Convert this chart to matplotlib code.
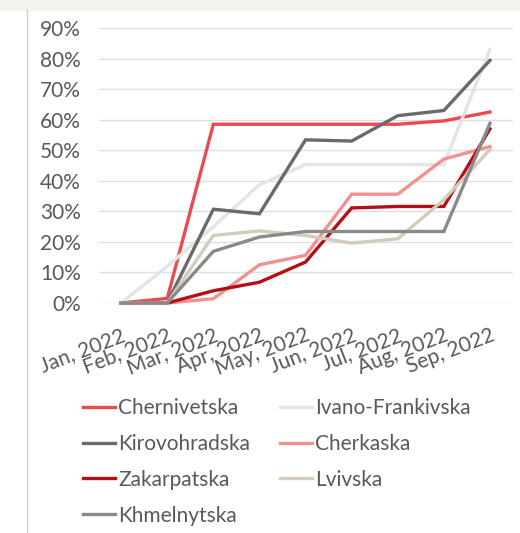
import matplotlib.pyplot as plt
from matplotlib.patches import Rectangle
from matplotlib.lines import Line2D

months = ["Jan, 2022", "Feb, 2022", "Mar, 2022", "Apr, 2022", "May, 2022",
          "Jun, 2022", "Jul, 2022", "Aug, 2022", "Sep, 2022"]

chernivetska = [0, 1.5, 58.5, 58.5, 58.5, 58.5, 58.5, 59.6, 62.5]
ivano_frankivska = [0, 12, 25, 38.7, 45.3, 45.3, 45.3, 45.3, 83]
kirovohradska = [0, 0, 30.7, 29.2, 53.4, 53, 61.3, 63, 79.4]
cherkaska = [0, 0, 1.4, 12.5, 15.6, 35.6, 35.6, 47.1, 51.2]
zakarpatska = [0, 0, 4, 6.8, 13.4, 31.1, 31.6, 31.6, 57]
lvivska = [0, 0, 22.1, 23.6, 22.1, 19.6, 21, 33.8, 50.2]
khmelnytska = [0, 0, 16.9, 21.6, 23.4, 23.4, 23.4, 23.4, 58.8]

series = [
    ("Chernivetska", chernivetska, "#ec4a52"),
    ("Ivano-Frankivska", ivano_frankivska, "#e4e4e4"),
    ("Kirovohradska", kirovohradska, "#6b696a"),
    ("Cherkaska", cherkaska, "#f29191"),
    ("Zakarpatska", zakarpatska, "#b30f15"),
    ("Lvivska", lvivska, "#d3ccbc"),
    ("Khmelnytska", khmelnytska, "#8b898a"),
]

plt.rcParams['font.family'] = ['Lato', 'DejaVu Sans']
text_color = "#595959"

fig = plt.figure(figsize=(5.2, 5.33), dpi=100)
ax = fig.add_axes([99 / 520, 1 - 303 / 533, 414 / 520, 275 / 533])

# top band and left rule of the original screenshot
fig.patches.append(Rectangle((0, 1 - 10 / 533), 1, 10 / 533, transform=fig.transFigure,
                             color="#f3f2ef", zorder=0))
fig.lines.append(Line2D([27 / 520, 27 / 520], [0, 1 - 10 / 533], transform=fig.transFigure,
                        color="#d4d4d4", lw=1))

x = list(range(len(months)))
handles = {}
for name, vals, col in series:
    ln, = ax.plot(x, [v / 100 for v in vals], color=col, lw=2.4, clip_on=False,
                  solid_joinstyle="miter", label=name)
    handles[name] = ln

ax.set_xlim(-0.48, 8.5)
ax.set_ylim(0, 0.9)
ax.set_yticks([i / 10 for i in range(10)])
ax.set_yticklabels([f"{i * 10}%" for i in range(10)])
ax.yaxis.grid(True, color="#e0e0e0", lw=1)
ax.set_axisbelow(True)
for s in ax.spines.values():
    s.set_visible(False)
ax.tick_params(axis="both", length=0, colors=text_color, labelsize=15)
ax.tick_params(axis="y", pad=13)
ax.set_xticks(x)
ax.set_xticklabels(months, rotation=21, ha="right", va="top", rotation_mode="anchor")
ax.tick_params(axis="x", pad=16)

order = ["Chernivetska", "Kirovohradska", "Zakarpatska", "Khmelnytska",
         "Ivano-Frankivska", "Cherkaska", "Lvivska"]
leg = fig.legend([handles[n] for n in order], order, ncol=2, frameon=False,
                 loc="upper left", bbox_to_anchor=(83 / 520, 1 - 398 / 533),
                 borderpad=0, borderaxespad=0,
                 fontsize=15, handlelength=1.55, handletextpad=0.15,
                 columnspacing=1.42, labelspacing=0.76, labelcolor=text_color)

fig.savefig("out.png", dpi=100)
